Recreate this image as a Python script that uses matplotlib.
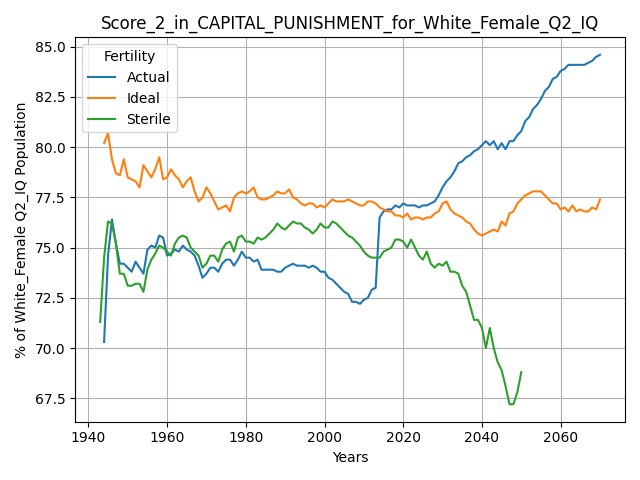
import numpy as np
import matplotlib
matplotlib.use("Agg")
import matplotlib.pyplot as plt

actual = [70.3, 74.6, 76.4, 75.2, 74.2, 74.2, 74.0, 73.8, 74.3, 74.0, 73.7, 74.9, 75.1, 75.0, 75.6, 75.5,
          74.6, 74.7, 74.9, 74.8, 75.1, 74.9, 74.8, 74.6, 74.1, 73.5, 73.7, 74.0, 74.0, 73.8, 74.2, 74.4,
          74.4, 74.1, 74.4, 74.8, 74.5, 74.5, 74.3, 74.4, 73.9, 73.9, 73.9, 73.9, 73.8, 73.8, 74.0, 74.1,
          74.2, 74.1, 74.1, 74.1, 74.0, 74.1, 74.0, 73.8, 73.8, 73.5, 73.4, 73.2, 73.0, 72.8, 72.7, 72.3,
          72.3, 72.2, 72.4, 72.5, 72.9, 73.0, 76.5, 76.8, 76.9, 76.9, 77.1, 77.0, 77.2, 77.1, 77.1, 77.1,
          77.0, 77.1, 77.1, 77.2, 77.3, 77.6, 78.0, 78.3, 78.5, 78.8, 79.2, 79.3, 79.5, 79.6, 79.8, 79.9,
          80.1, 80.3, 80.1, 80.3, 79.9, 80.2, 79.9, 80.3, 80.3, 80.6, 80.8, 81.3, 81.5, 81.9, 82.1, 82.4,
          82.8, 83.0, 83.4, 83.5, 83.8, 83.9, 84.1, 84.1, 84.1, 84.1, 84.1, 84.2, 84.3, 84.5, 84.6]
ideal = [80.2, 80.7, 79.4, 78.7, 78.6, 79.4, 78.5, 78.4, 78.3, 78.0, 79.1, 78.8, 78.5, 78.9, 79.5, 78.4,
         78.5, 78.9, 78.6, 78.4, 78.0, 78.3, 78.5, 77.8, 77.3, 77.5, 78.0, 77.7, 77.3, 76.9, 77.0, 77.1,
         76.8, 77.5, 77.7, 77.8, 77.7, 77.8, 78.0, 77.5, 77.4, 77.4, 77.5, 77.6, 77.8, 77.7, 77.7, 77.9,
         77.5, 77.4, 77.2, 77.1, 77.2, 77.2, 77.0, 77.1, 77.0, 77.2, 77.4, 77.3, 77.3, 77.3, 77.4, 77.3,
         77.2, 77.1, 77.1, 77.3, 77.3, 77.2, 77.0, 76.9, 76.8, 76.8, 76.6, 76.6, 76.5, 76.7, 76.4, 76.5,
         76.5, 76.4, 76.5, 76.5, 76.7, 76.8, 77.2, 77.3, 76.9, 76.7, 76.6, 76.5, 76.3, 76.2, 75.9, 75.7,
         75.6, 75.7, 75.8, 75.9, 75.8, 76.3, 76.1, 76.7, 76.8, 77.2, 77.4, 77.6, 77.7, 77.8, 77.8, 77.8,
         77.6, 77.4, 77.2, 77.2, 76.9, 77.0, 76.8, 77.1, 76.8, 76.9, 76.8, 76.8, 77.0, 76.9, 77.4]
sterile = [71.3, 74.5, 76.3, 76.2, 75.2, 73.7, 73.7, 73.1, 73.1, 73.2, 73.2, 72.8, 73.9, 74.4, 74.7, 75.1,
           75.0, 74.8, 74.6, 75.2, 75.5, 75.6, 75.5, 75.0, 74.8, 74.6, 74.0, 74.2, 74.6, 74.6, 74.3, 74.9,
           75.2, 75.3, 74.8, 75.5, 75.6, 75.3, 75.3, 75.2, 75.5, 75.4, 75.5, 75.7, 75.9, 76.2, 76.0, 75.9,
           76.1, 76.3, 76.2, 76.2, 76.0, 75.9, 75.7, 75.9, 76.2, 76.0, 76.0, 76.3, 76.2, 76.0, 75.8, 75.6,
           75.5, 75.3, 75.1, 74.8, 74.6, 74.5, 74.5, 74.5, 74.8, 74.9, 75.0, 75.4, 75.4, 75.3, 75.0, 75.4,
           75.0, 74.6, 74.4, 74.8, 74.2, 74.0, 74.2, 74.1, 74.3, 73.8, 73.8, 73.7, 73.1, 72.8, 72.1, 71.4,
           71.4, 71.0, 70.0, 71.0, 70.0, 69.3, 68.9, 68.1, 67.2, 67.2, 67.8, 68.8]

x_actual = np.arange(1944, 1944 + len(actual))
x_ideal = np.arange(2071 - len(ideal), 2071)
x_sterile = np.arange(1943, 1943 + len(sterile))

fig, ax = plt.subplots(figsize=(6.4, 4.8), dpi=100)
ax.plot(x_actual, actual, label="Actual")
ax.plot(x_ideal, ideal, label="Ideal")
ax.plot(x_sterile, sterile, label="Sterile")
ax.set_title("Score_2_in_CAPITAL_PUNISHMENT_for_White_Female_Q2_IQ")
ax.set_xlabel("Years")
ax.set_ylabel("% of White_Female Q2_IQ Population")
ax.grid(True, color="#b0b0b0")
ax.legend(title="Fertility", loc="upper left")
fig.tight_layout()
fig.savefig("out.png")
